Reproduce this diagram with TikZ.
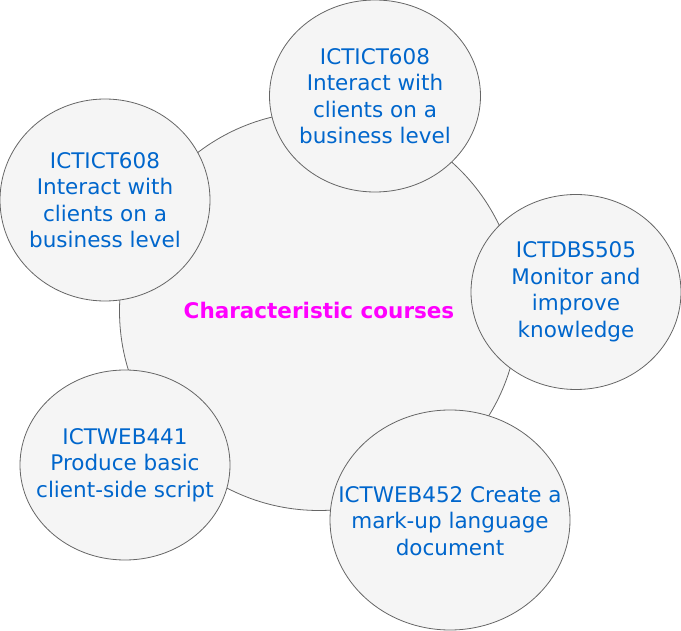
\documentclass[tikz,border=0pt]{standalone}
\usepackage{fontspec}
\setmainfont{DejaVu Sans}
\usetikzlibrary{shapes.geometric}
\definecolor{txtblue}{RGB}{0,102,204}
\definecolor{fillgray}{RGB}{245,245,245}
\definecolor{linegray}{RGB}{102,102,102}
\definecolor{mag}{RGB}{255,0,255}
\begin{document}
\begin{tikzpicture}[x=1pt,y=-1pt,
  bub/.style={ellipse,draw=linegray,fill=fillgray,line width=0.8pt,inner sep=0pt},
  lbl/.style={align=center,text=txtblue,font=\fontsize{21.5}{26.5}\selectfont,inner sep=0pt}]
\useasboundingbox (0,0) rectangle (681,631);
\node[bub,minimum width=399,minimum height=399] (main) at (319,311) {};
\node[text=mag,font=\bfseries\fontsize{21.5}{24}\selectfont] (mainlbl) at (319,310) {Characteristic courses};
\node[bub,minimum width=211,minimum height=192] (top) at (375,96) {};
\node[lbl] (toplbl) at (top.center) {ICTICT608\\Interact with\\clients on a\\business level};
\node[bub,minimum width=210,minimum height=202] (left) at (105,200) {};
\node[lbl] (leftlbl) at (left.center) {ICTICT608\\Interact with\\clients on a\\business level};
\node[bub,minimum width=210,minimum height=195] (right) at (576,292) {};
\node[lbl] (rightlbl) at (right.center) {ICTDBS505\\Monitor and\\improve\\knowledge};
\node[bub,minimum width=210,minimum height=190] (bl) at (125,465) {};
\node[lbl] (bllbl) at (bl.center) {ICTWEB441\\Produce basic\\client-side script};
\node[bub,minimum width=240,minimum height=220] (br) at (450,520) {};
\node[lbl] (brlbl) at (450,521) {ICTWEB452 Create a\\mark-up language\\document};
\end{tikzpicture}
\end{document}
